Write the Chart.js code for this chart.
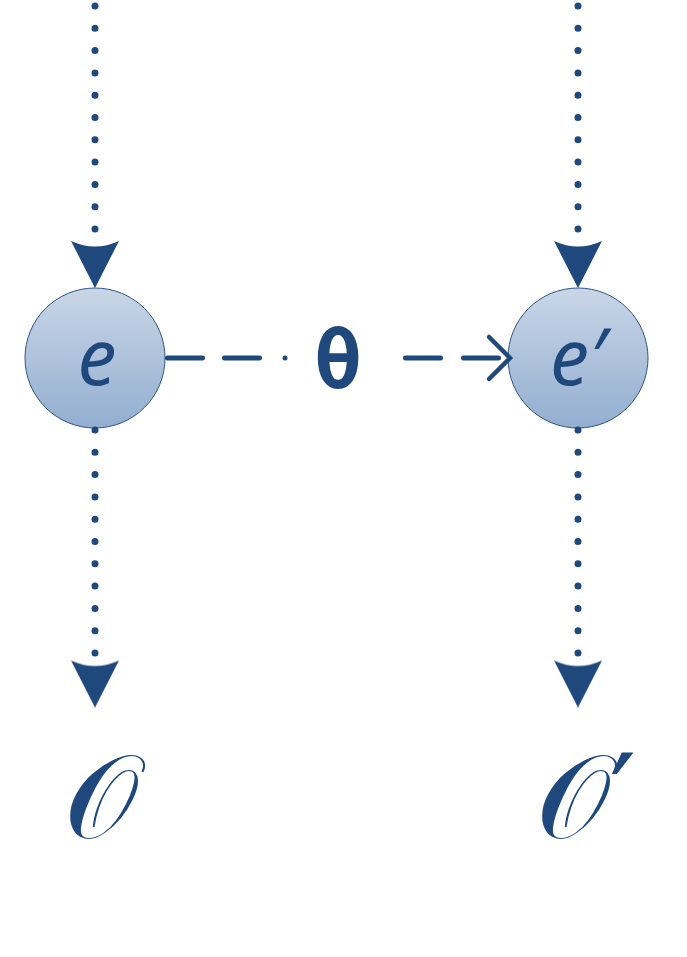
<!DOCTYPE html>
<html>
<head>
<meta charset="utf-8">
<script src="https://cdn.jsdelivr.net/npm/chart.js@4.4.1/dist/chart.umd.min.js"></script>
<style>
  html, body { margin: 0; padding: 0; background: #ffffff; }
  #wrap { width: 687px; height: 957px; }
</style>
</head>
<body>
<div id="wrap"><canvas id="diagram"></canvas></div>
<script>
// node / observation names
const nodeLabels = ['e', 'e\u2032'];
const obsLabels = ['\u{1D4AA}', '\u{1D4AA}\u2032'];
const edgeLabel = '\u03B8';

// diagram values (x = column, y = depth)
const columnX = [95, 578];
const nodeY = 358;
const dotsTop = [6, 229.2];
const dotsBottom = [430, 653.2];
const arrowTopY = 264;
const arrowBottomY = 683.5;
const obsY = 838;
const edgeLeft = [167.5, 286];
const edgeRight = [405.5, 510];
const edgeMidX = 338;

const BLUE = '#1f497d';

function arrowImage() {
    const c = document.createElement('canvas');
    c.width = 48; c.height = 48;
    const g = c.getContext('2d');
    g.fillStyle = BLUE;
    g.beginPath();
    g.moveTo(0, 1);
    g.quadraticCurveTo(24, 12, 48, 1);
    g.lineTo(24, 48);
    g.closePath();
    g.fill();
    return c;
}
const arrowHead = arrowImage();

function dotted(x, ys) {
    return {
        type: 'line',
        data: ys.map(y => ({ x: x, y: y })),
        borderColor: BLUE,
        borderWidth: 7,
        borderDash: [0, 22.3],
        borderCapStyle: 'round',
        pointRadius: 0
    };
}

const datasets = [];
columnX.forEach(x => {
    datasets.push(dotted(x, dotsTop));
    datasets.push(dotted(x, dotsBottom));
});

// arrow heads on the flows
datasets.push({
    type: 'scatter',
    data: columnX.flatMap(x => [{ x: x, y: arrowTopY }, { x: x, y: arrowBottomY }]),
    pointStyle: arrowHead,
    pointRadius: 24
});

// dashed edge e -> e'
datasets.push({
    type: 'line',
    data: edgeLeft.map(x => ({ x: x, y: nodeY })),
    borderColor: BLUE,
    borderWidth: 5,
    borderDash: [35, 22, 35, 25.5, 0, 400],
    borderCapStyle: 'round',
    pointRadius: 0
});
datasets.push({
    type: 'line',
    data: edgeRight.map(x => ({ x: x, y: nodeY })),
    borderColor: BLUE,
    borderWidth: 5,
    borderDash: [35, 23],
    borderCapStyle: 'round',
    pointRadius: 0
});
// open arrow tip
datasets.push({
    type: 'line',
    data: [{ x: edgeRight[1] - 21, y: nodeY - 21 }, { x: edgeRight[1], y: nodeY }, { x: edgeRight[1] - 21, y: nodeY + 21 }],
    borderColor: BLUE,
    borderWidth: 4.5,
    borderCapStyle: 'round',
    borderJoinStyle: 'miter',
    pointRadius: 0
});

// the two nodes
datasets.push({
    type: 'scatter',
    data: columnX.map(x => ({ x: x, y: nodeY })),
    pointRadius: 70,
    borderWidth: 1,
    pointBorderColor: '#2f5587',
    pointBackgroundColor: function(ctx) {
        const chart = ctx.chart;
        if (!chart.chartArea) return '#b0c4dd';
        const cy = chart.scales.y.getPixelForValue(nodeY);
        const g = chart.ctx.createLinearGradient(0, cy - 70, 0, cy + 70);
        g.addColorStop(0, '#c9d6e7');
        g.addColorStop(1, '#93aed0');
        return g;
    }
});

const labelPlugin = {
    id: 'labels',
    afterDatasetsDraw(chart) {
        const c = chart.ctx;
        const sx = chart.scales.x, sy = chart.scales.y;
        c.save();
        c.fillStyle = BLUE;
        c.textAlign = 'center';
        c.textBaseline = 'alphabetic';

        c.font = 'italic 78px "Noto Sans"';
        nodeLabels.forEach((t, i) => {
            c.fillText(t, sx.getPixelForValue(columnX[i]) + (i ? 0 : 2), sy.getPixelForValue(nodeY) + 27);
        });

        c.font = 'bold 80px "DejaVu Sans Mono"';
        c.fillText(edgeLabel, sx.getPixelForValue(edgeMidX), sy.getPixelForValue(nodeY) + 30);

        c.font = '118px "DejaVu Sans", "DejaVu Serif"';
        obsLabels.forEach((t, i) => {
            c.fillText(t, sx.getPixelForValue(columnX[i]) + (i ? 8 : 6), sy.getPixelForValue(obsY));
        });
        c.restore();
    }
};

new Chart(document.getElementById('diagram'), {
    type: 'scatter',
    data: { datasets: datasets },
    options: {
        responsive: true,
        maintainAspectRatio: false,
        animation: false,
        events: [],
        layout: { padding: 0, autoPadding: false },
        plugins: { legend: { display: false }, tooltip: { enabled: false } },
        scales: {
            x: { type: 'linear', min: 0, max: 687, display: false },
            y: { type: 'linear', min: 0, max: 957, reverse: true, display: false }
        }
    },
    plugins: [labelPlugin]
});
</script>
</body>
</html>
